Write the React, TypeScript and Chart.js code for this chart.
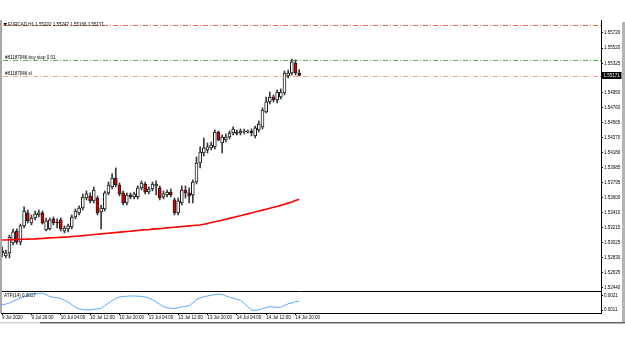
import React, { useEffect, useRef } from "react";
import { Chart, registerables } from "chart.js";

Chart.register(...registerables);

// ---- data ----
const headerText = "EURCAD,H1 1.55202 1.55247 1.55166 1.55171";
const buyStopText = "#81187046 buy stop 0.01";
const slText = "#81187046 sl";
const atrTitle = "ATR(14) 0.0017";

const timeLabels = [
  "9 Jul 2020", "9 Jul 20:00", "10 Jul 04:00", "10 Jul 12:00", "10 Jul 20:00",
  "13 Jul 04:00", "13 Jul 12:00", "13 Jul 20:00", "14 Jul 04:00", "14 Jul 12:00", "14 Jul 20:00",
];

const opens = [
  1.52916, 1.52851, 1.52890, 1.53018, 1.53172, 1.53031, 1.53237, 1.53404, 1.53275, 1.53339,
  1.53378, 1.53404, 1.53185, 1.53198, 1.53327, 1.53288, 1.53314, 1.53172, 1.53198, 1.53224,
  1.53352, 1.53404, 1.53468, 1.53596, 1.53622, 1.53558, 1.53596, 1.53416, 1.53455, 1.53661,
  1.53738, 1.53853, 1.53763, 1.53661, 1.53532, 1.53635, 1.53609, 1.53609, 1.53725, 1.53776,
  1.53673, 1.53712, 1.53751, 1.53725, 1.53609, 1.53635, 1.53673, 1.53571, 1.53404, 1.53532,
  1.53699, 1.53661, 1.53635, 1.53802, 1.54046, 1.54174, 1.54213, 1.54239, 1.54252, 1.54444,
  1.54303, 1.54342, 1.54380, 1.54431, 1.54444, 1.54431, 1.54444, 1.54444, 1.54457, 1.54393,
  1.54470, 1.54509, 1.54701, 1.54830, 1.54894, 1.54855, 1.54894, 1.54945, 1.55164, 1.55202,
  1.55331, 1.55202,
];
const highs = [
  1.52967, 1.52928, 1.53121, 1.53198, 1.53198, 1.53262, 1.53481, 1.53442, 1.53378, 1.53429,
  1.53442, 1.53429, 1.53339, 1.53339, 1.53352, 1.53327, 1.53339, 1.53237, 1.53262, 1.53378,
  1.53455, 1.53494, 1.53648, 1.53686, 1.53661, 1.53738, 1.53622, 1.53506, 1.53686, 1.53802,
  1.53905, 1.53982, 1.53789, 1.53686, 1.53661, 1.53661, 1.53673, 1.53751, 1.53815, 1.53802,
  1.53738, 1.53802, 1.53815, 1.53751, 1.53686, 1.53699, 1.53712, 1.53596, 1.53596, 1.53751,
  1.53751, 1.53725, 1.53828, 1.54123, 1.54252, 1.54367, 1.54303, 1.54316, 1.54470, 1.54457,
  1.54406, 1.54419, 1.54457, 1.54509, 1.54470, 1.54483, 1.54483, 1.54470, 1.54483, 1.54521,
  1.54586, 1.54753, 1.54894, 1.54958, 1.54920, 1.54984, 1.54997, 1.55228, 1.55241, 1.55382,
  1.55369, 1.55247,
];
const lows = [
  1.52838, 1.52826, 1.52826, 1.52993, 1.53005, 1.52993, 1.53211, 1.53275, 1.53250, 1.53314,
  1.53352, 1.53262, 1.53172, 1.53185, 1.53250, 1.53211, 1.53172, 1.53147, 1.53160, 1.53198,
  1.53327, 1.53378, 1.53442, 1.53571, 1.53532, 1.53532, 1.53378, 1.53198, 1.53429, 1.53635,
  1.53712, 1.53738, 1.53622, 1.53506, 1.53506, 1.53584, 1.53584, 1.53584, 1.53699, 1.53648,
  1.53648, 1.53686, 1.53635, 1.53571, 1.53584, 1.53609, 1.53609, 1.53378, 1.53378, 1.53506,
  1.53596, 1.53532, 1.53532, 1.53776, 1.53982, 1.54136, 1.54174, 1.54213, 1.54226, 1.54329,
  1.54174, 1.54316, 1.54354, 1.54406, 1.54406, 1.54406, 1.54419, 1.54431, 1.54393, 1.54367,
  1.54444, 1.54483, 1.54688, 1.54804, 1.54830, 1.54817, 1.54868, 1.54920, 1.55138, 1.55177,
  1.55177, 1.55166,
];
const closes = [
  1.52890, 1.52890, 1.53095, 1.53160, 1.53031, 1.53237, 1.53429, 1.53301, 1.53339, 1.53391,
  1.53404, 1.53275, 1.53301, 1.53314, 1.53275, 1.53275, 1.53198, 1.53211, 1.53237, 1.53352,
  1.53429, 1.53468, 1.53609, 1.53648, 1.53558, 1.53699, 1.53404, 1.53468, 1.53661, 1.53763,
  1.53853, 1.53763, 1.53648, 1.53532, 1.53635, 1.53609, 1.53648, 1.53725, 1.53789, 1.53673,
  1.53712, 1.53776, 1.53776, 1.53596, 1.53648, 1.53673, 1.53635, 1.53404, 1.53558, 1.53699,
  1.53661, 1.53622, 1.53802, 1.54046, 1.54187, 1.54239, 1.54252, 1.54277, 1.54444, 1.54342,
  1.54380, 1.54380, 1.54431, 1.54483, 1.54425, 1.54457, 1.54457, 1.54457, 1.54431, 1.54496,
  1.54547, 1.54727, 1.54830, 1.54894, 1.54855, 1.54958, 1.54958, 1.55202, 1.55202, 1.55344,
  1.55202, 1.55171,
];

const maValues = [
  1.53057, 1.53057, 1.53059, 1.53061, 1.53063, 1.53065, 1.53066, 1.53067, 1.53070, 1.53071,
  1.53074, 1.53076, 1.53080, 1.53083, 1.53085, 1.53088, 1.53090, 1.53093, 1.53095, 1.53101,
  1.53104, 1.53108, 1.53113, 1.53117, 1.53121, 1.53126, 1.53131, 1.53135, 1.53140, 1.53144,
  1.53148, 1.53153, 1.53157, 1.53161, 1.53165, 1.53169, 1.53174, 1.53178, 1.53183, 1.53187,
  1.53190, 1.53196, 1.53199, 1.53203, 1.53208, 1.53212, 1.53216, 1.53220, 1.53225, 1.53229,
  1.53233, 1.53238, 1.53242, 1.53246, 1.53250, 1.53259, 1.53269, 1.53280, 1.53291, 1.53301,
  1.53311, 1.53323, 1.53334, 1.53346, 1.53357, 1.53369, 1.53381, 1.53392, 1.53404, 1.53416,
  1.53428, 1.53440, 1.53452, 1.53464, 1.53476, 1.53487, 1.53501, 1.53515, 1.53530, 1.53545,
  1.53563, 1.53580,
];

const atrValues = [
  0.00148, 0.00152, 0.00160, 0.00172, 0.00184, 0.00195, 0.00205, 0.00213, 0.00220, 0.00225,
  0.00228, 0.00229, 0.00220, 0.00206, 0.00201, 0.00197, 0.00193, 0.00180, 0.00166, 0.00148,
  0.00130, 0.00118, 0.00113, 0.00110, 0.00111, 0.00114, 0.00118, 0.00122, 0.00140, 0.00160,
  0.00176, 0.00192, 0.00203, 0.00206, 0.00208, 0.00210, 0.00210, 0.00209, 0.00206, 0.00203,
  0.00196, 0.00184, 0.00168, 0.00150, 0.00134, 0.00126, 0.00122, 0.00121, 0.00126, 0.00132,
  0.00136, 0.00140, 0.00160, 0.00185, 0.00196, 0.00204, 0.00210, 0.00215, 0.00220, 0.00223,
  0.00221, 0.00211, 0.00200, 0.00195, 0.00187, 0.00178, 0.00158, 0.00133, 0.00112, 0.00106,
  0.00112, 0.00120, 0.00128, 0.00134, 0.00132, 0.00129, 0.00130, 0.00143, 0.00154, 0.00160,
  0.00170, 0.00172,
];

const priceTicks = [
  1.55720, 1.55520, 1.55325, 1.54950, 1.54760, 1.54565, 1.54370, 1.54180, 1.53985,
  1.53795, 1.53600, 1.53410, 1.53215, 1.53025, 1.52830, 1.52635, 1.52440,
];
const atrTicks = [0.0021, 0.0011];

const levelTop = 1.55819;
const levelBuyStop = 1.55365;
const levelSL = 1.55164;
const lastPrice = 1.55171;

const priceMin = 1.52401;
const priceMax = 1.55883;
const atrMin = 0.000886;
const atrMax = 0.002457;

const FONT = { family: "'Liberation Sans', Arial, sans-serif", size: 4.5 };

export default function App() {
  const ref = useRef<HTMLCanvasElement | null>(null);

  useEffect(() => {
    if (!ref.current) return;
    const idx = opens.map((_, i) => i);
    const bull = idx.map((i) => closes[i] >= opens[i]);

    const mtPlugin = {
      id: "mt",
      beforeDraw(chart: any) {
        const c = chart.ctx;
        c.save();
        c.fillStyle = "#ffffff";
        c.fillRect(0, 0, chart.width, chart.height);
        c.restore();
      },
      beforeDatasetsDraw(chart: any) {
        const c = chart.ctx;
        const ca = chart.chartArea;
        const ys = chart.scales.y;
        const drawLevel = (v: number, color: string) => {
          const py = Math.round(ys.getPixelForValue(v)) + 0.5;
          c.save();
          c.strokeStyle = color;
          c.lineWidth = 1;
          c.setLineDash([5, 2, 1, 2]);
          c.beginPath();
          c.moveTo(ca.left + 2, py);
          c.lineTo(ca.right, py);
          c.stroke();
          c.restore();
          return py;
        };
        const c1 = drawLevel(levelTop, "#ec7050");
        const c2 = drawLevel(levelBuyStop, "#50b450");
        const c3 = drawLevel(levelSL, "#f2a48a");
        c.save();
        c.fillStyle = "#000";
        c.font = `${FONT.size}px ${FONT.family}`;
        c.textBaseline = "middle";
        c.fillText(headerText, 8, c1 - 1);
        c.textBaseline = "alphabetic";
        c.fillText(buyStopText, 5, c2 - 1.5);
        c.fillText(slText, 5, c3 - 1.5);
        c.beginPath();
        c.moveTo(3.5, c1 - 2.5);
        c.lineTo(7, c1 - 2.5);
        c.lineTo(5.25, c1 + 0.5);
        c.closePath();
        c.fill();
        c.restore();
      },
      afterDraw(chart: any) {
        const c = chart.ctx;
        const ca = chart.chartArea;
        const ys = chart.scales.y;
        c.save();
        const sep = Math.round(ys.bottom) + 0.5;
        c.strokeStyle = "#000";
        c.lineWidth = 1;
        c.beginPath();
        c.moveTo(0, sep);
        c.lineTo(ca.right, sep);
        c.stroke();
        c.fillStyle = "#a8a8a8";
        c.fillRect(0, ca.top, 2, ca.bottom - ca.top);
        c.fillStyle = "#b4b4b4";
        c.fillRect(622, ca.top + 2, 3, 323 - ca.top - 2);
        c.fillStyle = "#d0d0d0";
        c.fillRect(0, 322, 40, 1.5);
        c.fillStyle = "#666";
        c.fillRect(40, 322, 585, 1.5);
        c.fillStyle = "#000";
        c.font = `${FONT.size}px ${FONT.family}`;
        c.textBaseline = "middle";
        c.fillText(atrTitle, 4, sep + 4.5);
        const py = ys.getPixelForValue(lastPrice);
        c.fillStyle = "#000";
        c.fillRect(ca.right + 0.5, Math.round(py) - 3, 20, 7);
        c.fillStyle = "#fff";
        c.fillText(lastPrice.toFixed(5), ca.right + 2.5, Math.round(py) + 0.5);
        c.restore();
      },
    };

    const chart = new Chart(ref.current, {
      type: "bar",
      data: {
        datasets: [
          {
            type: "line",
            label: "MA",
            data: idx.map((i) => ({ x: i, y: maValues[i] })),
            yAxisID: "y",
            borderColor: "#ff0000",
            borderWidth: 1.6,
            pointRadius: 0,
            tension: 0,
            order: 0,
          },
          {
            type: "line",
            label: "ATR",
            data: idx.map((i) => ({ x: i, y: atrValues[i] })),
            yAxisID: "y2",
            borderColor: "#5aa8ff",
            borderWidth: 1,
            pointRadius: 0,
            tension: 0,
            order: 0,
          },
          {
            type: "bar",
            label: "body",
            data: idx.map((i) => ({ x: i, y: [opens[i], closes[i]] })) as any,
            yAxisID: "y",
            backgroundColor: idx.map((i) => (bull[i] ? "#ffffff" : "#e00000")),
            borderColor: "#1a1a1a",
            borderWidth: 1,
            borderSkipped: false,
            barThickness: 3,
            grouped: false,
            order: 1,
          },
          {
            type: "bar",
            label: "wick",
            data: idx.map((i) => ({ x: i, y: [lows[i], highs[i]] })) as any,
            yAxisID: "y",
            backgroundColor: "#3a3a3a",
            borderWidth: 0,
            barThickness: 1,
            grouped: false,
            order: 2,
          },
        ],
      },
      options: {
        responsive: false,
        animation: false,
        devicePixelRatio: 1,
        layout: { padding: { left: 1, right: 2, top: 20, bottom: 28 } },
        plugins: { legend: { display: false }, tooltip: { enabled: false } },
        scales: {
          x: {
            type: "linear",
            offset: false,
            min: -0.3,
            max: 163.3,
            grid: { display: true, offset: false, drawOnChartArea: false, drawTicks: true, tickLength: 2, color: "#000" },
            border: { display: true, color: "#000" },
            ticks: {
              font: FONT,
              color: "#000",
              align: "start",
              padding: 0,
              maxRotation: 0,
              autoSkip: false,
              callback: (_v: any, i: number) => timeLabels[i],
            },
            afterBuildTicks: (s: any) => {
              s.ticks = timeLabels.map((_, k) => ({ value: k * 8 }));
            },
            afterFit: (s: any) => {
              s.height = 10;
            },
          } as any,
          y: {
            type: "linear",
            position: "right",
            stack: "pane",
            stackWeight: 271,
            min: priceMin,
            max: priceMax,
            grid: { display: true, drawOnChartArea: false, drawTicks: true, tickLength: 2, color: "#000" },
            border: { display: true, color: "#000" },
            ticks: {
              font: FONT,
              color: "#000",
              padding: 1,
              autoSkip: false,
              callback: (v: any) => Number(v).toFixed(5),
            },
            afterBuildTicks: (s: any) => {
              s.ticks = priceTicks.map((v) => ({ value: v }));
            },
            afterFit: (s: any) => {
              s.width = 22;
            },
          } as any,
          y2: {
            type: "linear",
            position: "right",
            stack: "pane",
            stackWeight: 22,
            min: atrMin,
            max: atrMax,
            grid: { display: true, drawOnChartArea: false, drawTicks: true, tickLength: 2, color: "#000" },
            border: { display: true, color: "#000" },
            ticks: {
              font: FONT,
              color: "#000",
              padding: 1,
              autoSkip: false,
              callback: (v: any) => Number(v).toFixed(4),
            },
            afterBuildTicks: (s: any) => {
              s.ticks = atrTicks.map((v) => ({ value: v }));
            },
            afterFit: (s: any) => {
              s.width = 22;
            },
          } as any,
        },
      },
      plugins: [mtPlugin],
    } as any);

    return () => chart.destroy();
  }, []);

  return (
    <div style={{ position: "absolute", left: 0, top: 0, width: 625, height: 351, background: "#fff" }}>
      <canvas ref={ref} width={625} height={351} style={{ display: "block" }} />
    </div>
  );
}
